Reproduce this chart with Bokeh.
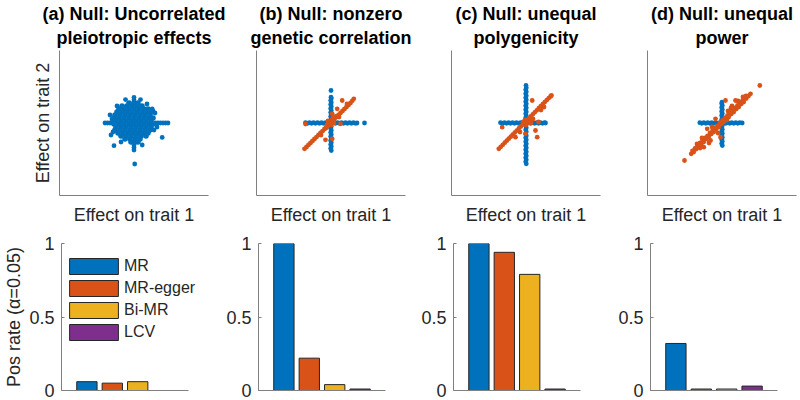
from bokeh.plotting import figure
from bokeh.layouts import column, row
from bokeh.models import Range1d, FixedTicker, Title, Legend, LegendItem
from bokeh.embed import file_html
from bokeh.resources import INLINE

BLUE = "#0072BD"
ORANGE = "#D95319"
YELLOW = "#EDB120"
PURPLE = "#7E2F8E"
BAR_COLORS = [BLUE, ORANGE, YELLOW, PURPLE]

TITLES = [
    ("(a) Null: Uncorrelated", "pleiotropic effects"),
    ("(b) Null: nonzero", "genetic correlation"),
    ("(c) Null: unequal", "polygenicity"),
    ("(d) Null: unequal", "power"),
]
X_LABEL = "Effect on trait 1"
Y_LABEL_TOP = "Effect on trait 2"
Y_LABEL_BOTTOM = "Pos rate (\u03b1=0.05)"

METHODS = ["MR", "MR-egger", "Bi-MR", "LCV"]
METHOD_POS = [1, 2, 3, 4]
POS_RATE_A = [0.06, 0.05, 0.06, 0.0]
POS_RATE_B = [1.0, 0.22, 0.04, 0.01]
POS_RATE_C = [1.0, 0.94, 0.79, 0.01]
POS_RATE_D = [0.32, 0.01, 0.01, 0.03]
Y_TICKS = [0, 0.5, 1]
BAR_X_MAX = 5

# ---- scatter data (effect on trait 1, effect on trait 2) ----
# panel (a): dense core of the cloud
A_BLUE_CORE = [
    (-0.05, 0.20), (0.00, 0.20), (0.04, 0.20),
    (-0.12, 0.17), (-0.07, 0.17), (-0.02, 0.17), (0.03, 0.17), (0.08, 0.17),
    (-0.15, 0.14), (-0.10, 0.14), (-0.05, 0.14), (0.00, 0.14), (0.05, 0.14), (0.10, 0.14), (0.14, 0.14),
    (-0.17, 0.11), (-0.12, 0.11), (-0.07, 0.11), (-0.02, 0.11), (0.03, 0.11), (0.08, 0.11), (0.13, 0.11), (0.17, 0.11),
    (-0.19, 0.08), (-0.14, 0.08), (-0.09, 0.08), (-0.04, 0.08), (0.01, 0.08), (0.06, 0.08), (0.11, 0.08), (0.16, 0.08),
    (-0.20, 0.05), (-0.15, 0.05), (-0.10, 0.05), (-0.05, 0.05), (0.00, 0.05), (0.05, 0.05), (0.10, 0.05), (0.15, 0.05), (0.19, 0.05),
    (-0.18, 0.02), (-0.13, 0.02), (-0.08, 0.02), (-0.03, 0.02), (0.02, 0.02), (0.07, 0.02), (0.12, 0.02), (0.17, 0.02),
    (-0.20, -0.01), (-0.15, -0.01), (-0.10, -0.01), (-0.05, -0.01), (0.00, -0.01), (0.05, -0.01), (0.10, -0.01), (0.15, -0.01), (0.19, -0.01),
    (-0.18, -0.04), (-0.13, -0.04), (-0.08, -0.04), (-0.03, -0.04), (0.02, -0.04), (0.07, -0.04), (0.12, -0.04), (0.17, -0.04),
    (-0.19, -0.07), (-0.14, -0.07), (-0.09, -0.07), (-0.04, -0.07), (0.01, -0.07), (0.06, -0.07), (0.11, -0.07), (0.16, -0.07),
    (-0.16, -0.10), (-0.11, -0.10), (-0.06, -0.10), (-0.01, -0.10), (0.04, -0.10), (0.09, -0.10), (0.14, -0.10),
    (-0.13, -0.13), (-0.08, -0.13), (-0.03, -0.13), (0.02, -0.13), (0.07, -0.13), (0.12, -0.13),
    (-0.09, -0.16), (-0.04, -0.16), (0.01, -0.16), (0.06, -0.16),
    (-0.03, -0.19), (0.01, -0.19), (0.04, -0.19),
]
# panel (a): sparse points around the core
A_BLUE = [
    (-0.29, 0.00), (-0.265, 0.00), (-0.24, 0.00), (-0.215, 0.00), (0.215, 0.00), (0.24, 0.00),
    (0.265, 0.00), (0.29, 0.00), (0.315, 0.00), (0.34, 0.00),
    (0.00, 0.23), (0.00, 0.255), (0.00, -0.22), (0.00, -0.245), (0.00, -0.27),
    (-0.17, 0.17), (-0.085, 0.234), (0.065, 0.234), (0.182, 0.14), (0.282, -0.144), (-0.20, -0.227),
    (0.082, -0.22), (0.007, -0.41), (-0.24, 0.08), (0.21, 0.10), (-0.23, -0.12), (0.20, -0.07),
    (0.13, 0.19), (-0.13, -0.19), (0.23, -0.04), (-0.22, 0.04), (-0.21, -0.09), (0.19, 0.12),
]
A_ORANGE = []

B_BLUE = [
    (-0.255, 0.003), (-0.235, -0.003), (-0.215, 0.003), (-0.195, -0.003), (-0.175, 0.003), (-0.155, -0.003),
    (-0.135, 0.003), (-0.115, -0.003), (-0.095, 0.003), (-0.075, -0.003), (-0.055, 0.003), (-0.035, -0.003),
    (-0.015, 0.003), (0.005, -0.003), (0.025, 0.003), (0.045, -0.003), (0.065, 0.003), (0.085, -0.003),
    (0.105, 0.003), (0.125, -0.003), (0.145, 0.003), (0.165, -0.003), (0.185, 0.003), (0.205, -0.003),
    (0.225, 0.003), (0.245, -0.003), (0.26, 0.0), (0.335, 0.0),
    (0.003, -0.275), (-0.003, -0.255), (0.003, -0.235), (-0.003, -0.215), (0.003, -0.195), (-0.003, -0.175),
    (0.003, -0.155), (-0.003, -0.135), (0.003, -0.115), (-0.003, -0.095), (0.003, -0.075), (-0.003, -0.055),
    (0.003, -0.035), (-0.003, -0.015), (0.003, 0.005), (-0.003, 0.025), (0.003, 0.045), (-0.003, 0.065),
    (0.003, 0.085), (-0.003, 0.105), (0.003, 0.125), (-0.003, 0.145), (0.003, 0.165), (-0.003, 0.185),
    (0.003, 0.205), (-0.003, 0.225), (0.003, 0.245), (0.0, 0.258), (0.0, 0.325),
]
B_ORANGE = [
    (-0.265, -0.258), (-0.245, -0.24), (-0.225, -0.219), (-0.205, -0.2), (-0.185, -0.18), (-0.165, -0.16),
    (-0.145, -0.141), (-0.125, -0.12), (-0.105, -0.1), (-0.085, -0.082), (-0.065, -0.06), (-0.045, -0.04),
    (-0.025, -0.02), (-0.005, 0.0), (0.015, 0.02), (0.035, 0.04), (0.055, 0.06), (0.075, 0.08),
    (0.095, 0.1), (0.115, 0.12), (0.135, 0.14), (0.155, 0.16), (0.175, 0.18), (0.195, 0.2), (0.213, 0.222), (0.228, 0.242),
    (-0.04, -0.02), (-0.02, 0.01), (0.0, -0.02), (0.02, 0.03), (-0.05, -0.05), (0.03, 0.0), (0.015, 0.045), (-0.03, 0.02),
    (0.112, 0.225), (0.062, 0.142), (0.012, 0.092), (-0.055, -0.168), (0.012, -0.158), (0.095, -0.008),
    (-0.255, -0.01), (0.08, 0.06), (0.16, 0.19), (-0.10, -0.12), (0.045, 0.065),
]

C_BLUE = [
    (-0.255, 0.003), (-0.235, -0.003), (-0.215, 0.003), (-0.195, -0.003), (-0.175, 0.003), (-0.155, -0.003),
    (-0.135, 0.003), (-0.115, -0.003), (-0.095, 0.003), (-0.075, -0.003), (-0.055, 0.003), (-0.035, -0.003),
    (-0.015, 0.003), (0.005, -0.003), (0.025, 0.003), (0.045, -0.003), (0.065, 0.003), (0.085, -0.003),
    (0.105, 0.003), (0.125, -0.003), (0.145, 0.003), (0.165, -0.003), (0.185, 0.003), (0.195, 0.0),
    (0.003, -0.408), (-0.003, -0.388), (0.003, -0.368), (-0.003, -0.348), (0.003, -0.328), (-0.003, -0.308),
    (0.003, -0.288), (-0.003, -0.268), (0.003, -0.248), (-0.003, -0.228), (0.003, -0.208), (-0.003, -0.188),
    (0.003, -0.168), (-0.003, -0.148), (0.003, -0.128), (-0.003, -0.108), (0.003, -0.088), (-0.003, -0.068),
    (0.003, -0.048), (-0.003, -0.028), (0.003, -0.008), (-0.003, 0.012), (0.003, 0.032), (-0.003, 0.052),
    (0.003, 0.072), (-0.003, 0.092), (0.003, 0.112), (-0.003, 0.132), (0.003, 0.152), (-0.003, 0.172),
    (0.003, 0.192), (-0.003, 0.212), (0.003, 0.232), (-0.003, 0.252), (0.003, 0.272), (-0.003, 0.292),
    (0.003, 0.312), (-0.003, 0.332), (0.003, 0.352), (0.0, 0.375),
]
C_ORANGE = [
    (-0.272, -0.258), (-0.252, -0.238), (-0.232, -0.218), (-0.212, -0.197), (-0.192, -0.177), (-0.172, -0.157),
    (-0.152, -0.137), (-0.132, -0.116), (-0.112, -0.096), (-0.092, -0.076), (-0.072, -0.055), (-0.052, -0.035),
    (-0.032, -0.015), (-0.012, 0.006), (0.008, 0.026), (0.028, 0.046), (0.048, 0.066), (0.068, 0.087),
    (0.088, 0.107), (0.108, 0.127), (0.128, 0.148), (0.148, 0.168), (0.168, 0.188), (0.188, 0.209),
    (0.208, 0.229), (0.228, 0.249), (0.245, 0.265), (0.255, 0.275),
    (-0.03, 0.01), (0.0, -0.02), (0.02, 0.0), (0.04, 0.03), (-0.01, 0.03), (0.05, 0.0),
    (0.062, 0.225), (-0.238, -0.042), (0.095, -0.075), (0.112, -0.142), (-0.005, -0.108),
    (-0.105, -0.142), (0.125, 0.01), (0.07, 0.04), (0.15, 0.13), (0.18, 0.16), (-0.06, -0.09),
]

D_BLUE = [
    (-0.222, 0.003), (-0.202, -0.003), (-0.182, 0.003), (-0.162, -0.003), (-0.142, 0.003), (-0.122, -0.003),
    (-0.102, 0.003), (-0.082, -0.003), (-0.062, 0.003), (-0.042, -0.003), (-0.022, 0.003), (-0.002, -0.003),
    (0.018, 0.003), (0.038, -0.003), (0.058, 0.003), (0.078, -0.003), (0.098, 0.003), (0.118, -0.003),
    (0.138, 0.003), (0.158, -0.003), (0.178, 0.003), (0.202, 0.0),
    (0.003, -0.225), (-0.003, -0.205), (0.003, -0.185), (-0.003, -0.165), (0.003, -0.145), (-0.003, -0.125),
    (0.003, -0.105), (-0.003, -0.085), (0.003, -0.065), (-0.003, -0.045), (0.003, -0.025), (-0.003, -0.005),
    (0.003, 0.015), (-0.003, 0.035), (0.003, 0.055), (-0.003, 0.075), (0.003, 0.095), (-0.003, 0.115),
    (0.003, 0.135), (-0.003, 0.155), (0.003, 0.175), (-0.003, 0.195), (0.0, 0.208),
]
D_ORANGE = [
    (-0.308, -0.308), (-0.283, -0.29), (-0.258, -0.26), (-0.233, -0.24), (-0.208, -0.21), (-0.183, -0.19),
    (-0.158, -0.16), (-0.133, -0.14), (-0.108, -0.11), (-0.083, -0.09), (-0.058, -0.06), (-0.033, -0.04),
    (-0.008, -0.01), (0.017, 0.01), (0.042, 0.04), (0.067, 0.06), (0.092, 0.09), (0.117, 0.11),
    (0.142, 0.14), (0.167, 0.16), (0.192, 0.19), (0.217, 0.21), (0.242, 0.245), (0.265, 0.27), (0.285, 0.292),
    (-0.295, -0.28), (-0.27, -0.255), (-0.245, -0.23), (-0.22, -0.2), (-0.195, -0.18), (-0.17, -0.15),
    (-0.145, -0.13), (-0.12, -0.1), (-0.095, -0.08), (-0.07, -0.05), (-0.045, -0.03), (-0.02, 0.0),
    (0.005, 0.025), (0.03, 0.05), (0.055, 0.075), (0.08, 0.1), (0.105, 0.125), (0.13, 0.15),
    (0.155, 0.175), (0.18, 0.2), (0.205, 0.225), (0.23, 0.25),
    (0.378, 0.375), (-0.375, -0.375), (-0.182, -0.242), (-0.115, -0.175), (-0.065, 0.042), (0.035, 0.225),
    (0.135, 0.225), (-0.148, -0.058), (-0.015, -0.142), (0.21, 0.26), (0.24, 0.27), (-0.25, -0.21),
    (-0.2, -0.15), (0.06, 0.12), (0.1, 0.17), (-0.1, -0.04), (0.16, 0.22), (-0.04, -0.1), (0.05, 0.03),
    (0.09, 0.15), (-0.13, -0.2), (-0.22, -0.25),
]

SCATTERS = [(A_BLUE_CORE, A_BLUE, A_ORANGE), ([], B_BLUE, B_ORANGE),
            ([], C_BLUE, C_ORANGE), ([], D_BLUE, D_ORANGE)]
RATES = [POS_RATE_A, POS_RATE_B, POS_RATE_C, POS_RATE_D]

# ---- layout (pixels) ----
TOP_COL_W = [230, 200, 192, 178]
TOP_LEFT = [59, 26, 21, 25]
TOP_FRAME_W = 149
BOT_COL_W = [215, 200, 195, 190]
BOT_LEFT = [61, 43, 38, 40]
BOT_FRAME_W = [136, 127, 127, 127]
BAR_FRAME_UNIT = 127
TOP_H, TOP_BT, TOP_BB = 228, 50, 33
BOT_H, BOT_BT, BOT_BB = 172, 15, 10

FONT = "Liberation Sans"
AX_COLOR = "#808080"
TXT_COLOR = "#262626"


def style_axis(ax):
    ax.axis_line_color = AX_COLOR
    ax.axis_line_width = 1
    ax.minor_tick_line_color = None
    ax.minor_tick_out = 0
    ax.minor_tick_in = 0
    ax.axis_label_text_font = FONT
    ax.axis_label_text_font_style = "normal"
    ax.axis_label_text_font_size = "18px"
    ax.axis_label_text_color = TXT_COLOR
    ax.major_label_text_font = FONT
    ax.major_label_text_font_size = "18px"
    ax.major_label_text_color = TXT_COLOR


def bare_axis(ax):
    ax.ticker = FixedTicker(ticks=[])
    ax.major_tick_line_color = None
    ax.major_tick_out = 0
    ax.major_tick_in = 0
    ax.major_label_standoff = 0


def top_fig(i):
    fw = TOP_FRAME_W
    p = figure(width=TOP_COL_W[i], height=TOP_H, title=None,
               output_backend="svg", toolbar_location=None,
               min_border_left=TOP_LEFT[i], min_border_right=TOP_COL_W[i] - TOP_LEFT[i] - fw,
               min_border_top=TOP_BT, min_border_bottom=TOP_BB,
               x_range=Range1d(-fw / 200, fw / 200), y_range=Range1d(-0.725, 0.725))
    p.outline_line_color = None
    p.grid.visible = False
    for ax in (p.xaxis[0], p.yaxis[0]):
        style_axis(ax)
        bare_axis(ax)
    p.xaxis.axis_label = X_LABEL
    p.xaxis.axis_label_standoff = 9
    if i == 0:
        p.yaxis.axis_label = Y_LABEL_TOP
        p.yaxis.axis_label_standoff = 7
    line1, line2 = TITLES[i]
    p.add_layout(Title(text=line2, align="center", vertical_align="middle", text_font=FONT,
                       text_font_size="18px", text_font_style="bold", text_color="black",
                       standoff=4, offset=0),
                 "above")
    p.add_layout(Title(text=line1, align="center", vertical_align="middle", text_font=FONT,
                       text_font_size="18px", text_font_style="bold", text_color="black",
                       standoff=0, offset=0),
                 "above")
    core, blue, orange = SCATTERS[i]
    if core:
        cx, cy = zip(*core)
        p.scatter(list(cx), list(cy), size=5.6, fill_color=BLUE, line_color=None)
    if blue:
        bx, by = zip(*blue)
        p.scatter(list(bx), list(by), size=4.8, fill_color=BLUE, line_color=None)
    if orange:
        ox, oy = zip(*orange)
        p.scatter(list(ox), list(oy), size=4.8, fill_color=ORANGE, line_color=None)
    return p


def bot_fig(i):
    fw = BOT_FRAME_W[i]
    p = figure(width=BOT_COL_W[i], height=BOT_H, title=None,
               output_backend="svg", toolbar_location=None,
               min_border_left=BOT_LEFT[i], min_border_right=BOT_COL_W[i] - BOT_LEFT[i] - fw,
               min_border_top=BOT_BT, min_border_bottom=BOT_BB,
               x_range=Range1d(0, BAR_X_MAX * fw / BAR_FRAME_UNIT), y_range=Range1d(0, 1))
    p.outline_line_color = None
    p.grid.visible = False
    style_axis(p.xaxis[0])
    style_axis(p.yaxis[0])
    bare_axis(p.xaxis[0])
    p.xaxis.bounds = (0, BAR_X_MAX)
    p.yaxis.ticker = FixedTicker(ticks=Y_TICKS)
    p.yaxis.major_label_overrides = {0: "0", 0.5: "0.5", 1: "1"}
    p.yaxis.major_tick_line_color = AX_COLOR
    p.yaxis.major_tick_in = 3
    p.yaxis.major_tick_out = 0
    p.yaxis.major_label_standoff = 7
    r = p.vbar(x=METHOD_POS, top=RATES[i], width=0.8, fill_color=BAR_COLORS,
               line_color="#262626", line_width=1)
    if i == 0:
        p.yaxis.axis_label = Y_LABEL_BOTTOM
        p.yaxis.axis_label_standoff = 2
        items = [LegendItem(label=m, renderers=[r], index=k) for k, m in enumerate(METHODS)]
        leg = Legend(items=items, location=(2, 48), margin=0, padding=0, spacing=2,
                     glyph_width=61, glyph_height=20, label_height=20, label_standoff=0,
                     label_text_font=FONT, label_text_font_size="16px", label_text_color=TXT_COLOR,
                     border_line_color=None, background_fill_alpha=0)
        p.add_layout(leg, "center")
    return p


tops = [top_fig(i) for i in range(4)]
bots = [bot_fig(i) for i in range(4)]
layout = column(row(*tops), row(*bots))

with open("out.html", "w") as f:
    f.write(file_html(layout, INLINE))
